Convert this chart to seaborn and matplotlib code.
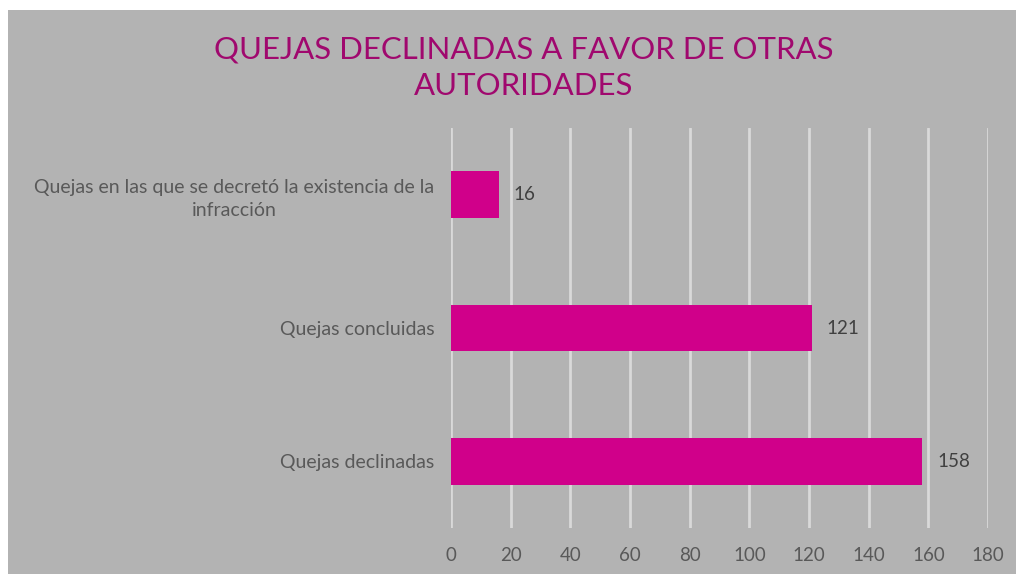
import matplotlib
matplotlib.use("Agg")
import matplotlib.pyplot as plt
import seaborn as sns
import pandas as pd
from matplotlib.patches import Rectangle

categories = ["Quejas en las que se decretó la existencia de la\ninfracción",
              "Quejas concluidas",
              "Quejas declinadas"]
values = [16, 121, 158]
xticks = [0, 20, 40, 60, 80, 100, 120, 140, 160, 180]
title = "QUEJAS DECLINADAS A FAVOR DE OTRAS\nAUTORIDADES"

sns.set_theme(style="white")
plt.rcParams['font.family'] = ['Lato', 'DejaVu Sans']

W, H = 1016, 574
fig = plt.figure(figsize=(W / 100, H / 100), dpi=100)
fig.patch.set_facecolor("white")
fig.patches.append(Rectangle((8 / W, 0), 1 - 8 / W, 1 - 10 / H, transform=fig.transFigure,
                             facecolor="#b3b3b3", edgecolor="none", zorder=-5))

ax = fig.add_axes([451 / W, 1 - 528 / H, (988 - 451) / W, (528 - 128) / H])
ax.set_zorder(2)
ax.set_facecolor("none")

df = pd.DataFrame({"cat": categories, "val": values})
sns.barplot(data=df, y="cat", x="val", orient="h", color="#d0008a", width=0.35,
            saturation=1, ax=ax, zorder=3, linewidth=0)

ax.set_xlim(0, 180)
ax.set_ylim(2.5, -0.5)
ax.set_xticks(xticks)
ax.set_xticklabels([str(t) for t in xticks], fontsize=13.5, color="#595959")
ax.tick_params(axis="y", labelsize=14, labelcolor="#595959", length=0, pad=12)
ax.tick_params(axis="x", length=0, pad=14)
for lbl in ax.get_yticklabels():
    lbl.set_horizontalalignment("right")
    lbl.set_multialignment("center")
    lbl.set_linespacing(1.45)
ax.grid(axis="x", color="#d9d9d9", linewidth=2, zorder=1)
ax.set_axisbelow(True)
for s in ax.spines.values():
    s.set_visible(False)
ax.set_xlabel("")
ax.set_ylabel("")

for i, v in enumerate(values):
    ax.text(v + 5, i, str(v), va="center", ha="left", fontsize=13.5, color="#404040")

fig.text(524 / W, 1 - 68 / H, title, ha="center", va="center", fontsize=22.4,
         color="#a0086e", linespacing=1.35)

fig.savefig("out.png", dpi=100)
